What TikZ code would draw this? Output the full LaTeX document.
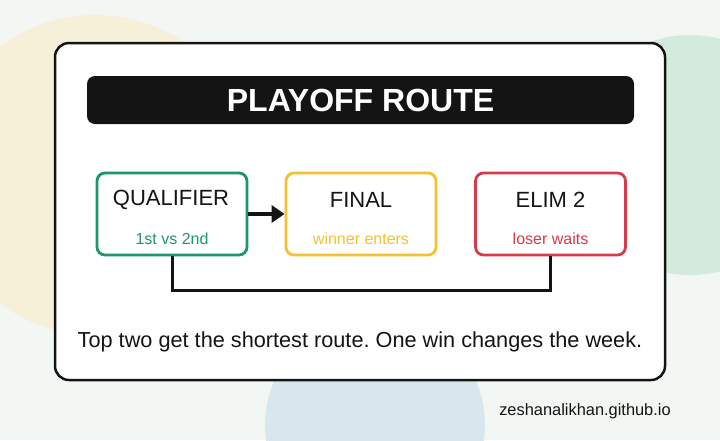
\documentclass[tikz,border=0pt]{standalone}
\usepackage{fontspec}
\setmainfont{Liberation Sans}
\usetikzlibrary{arrows.meta}
\frenchspacing
\definecolor{bg}{HTML}{F3F7F3}
\definecolor{blobY}{HTML}{F7F0D8}
\definecolor{blobG}{HTML}{D3EBDD}
\definecolor{blobB}{HTML}{D8E7EE}
\definecolor{cG}{HTML}{1E9668}
\definecolor{cY}{HTML}{F2C232}
\definecolor{cR}{HTML}{D63B4B}
\definecolor{ink}{HTML}{141414}
\tikzset{
  box/.style={draw=#1,line width=2.8pt,rounded corners=8pt,fill=white,minimum width=150pt,minimum height=82pt},
  ttl/.style={font=\fontsize{22}{26}\selectfont,text=ink},
  sub/.style={font=\fontsize{16}{19}\selectfont,text=#1},
  conn/.style={draw=ink,line width=3pt}
}
\begin{document}
\begin{tikzpicture}[x=1pt,y=-1pt]
\useasboundingbox (0,0) rectangle (720,440);
\clip (0,0) rectangle (720,440);
\fill[bg] (0,0) rectangle (720,440);
\fill[blobY] (95,175) circle (160);
\fill[blobG] (690,155) circle (120);
\fill[blobB] (375,425) circle (110);
\draw[ink,line width=2.5pt,fill=white,rounded corners=14pt] (55,43) rectangle (665,380);
\node[fill=ink,rounded corners=8pt,minimum width=547pt,minimum height=48pt,text=white,font=\bfseries\fontsize{32}{36}\selectfont] (title) at (360.5,100) {PLAYOFF ROUTE};
\node[box=cG] (q) at (172,214) {};
\node[box=cY] (f) at (361,214) {};
\node[box=cR] (e) at (550.5,214) {};
\node[ttl] (qt) at (171,200) {QUALIFIER};
\node[sub=cG] (qs) at (172,239) {1st vs 2nd};
\node[ttl] (ft) at (361,200) {FINAL};
\node[sub=cY] (fs) at (361,239) {winner enters};
\node[ttl] (et) at (550.5,200) {ELIM 2};
\node[sub=cR] (es) at (550.5,239) {loser waits};
\draw[conn,line width=3.5pt,-{Triangle[length=13pt,width=17pt]}] (q.east) -- (f.west);
\coordinate (c1) at (172,290);
\coordinate (c2) at (550.5,290);
\draw[conn] (q.south) -- (c1) -- (c2) -- (e.south);
\node[font=\fontsize{21.7}{26}\selectfont,text=ink] (cap) at (360,342) {Top two get the shortest route. One win changes the week.};
\node[font=\fontsize{16.4}{19}\selectfont,text=ink] (url) at (585,411) {zeshanalikhan.github.io};
\end{tikzpicture}
\end{document}
